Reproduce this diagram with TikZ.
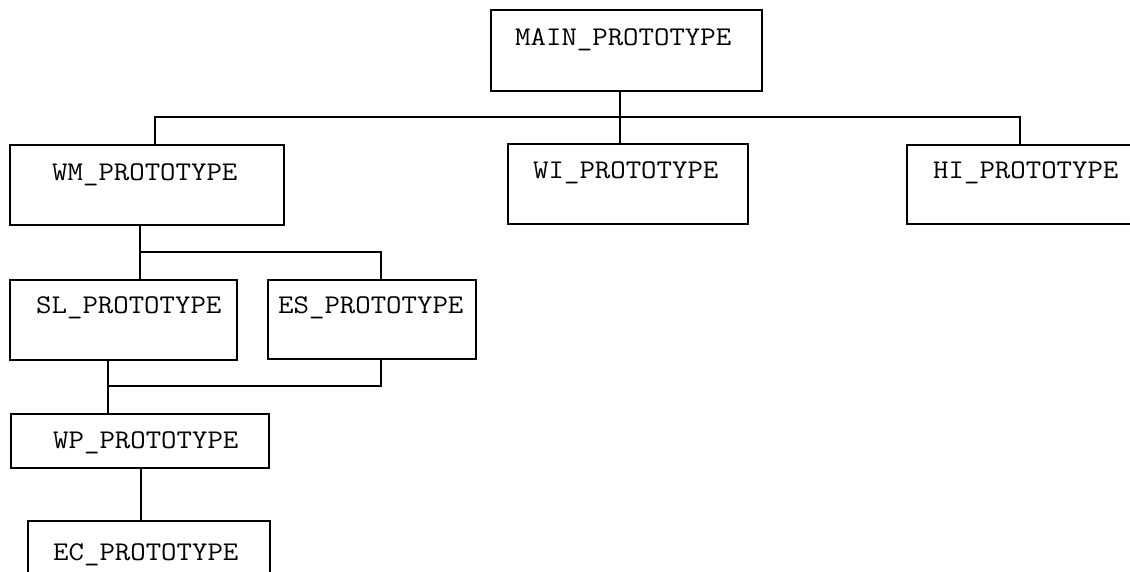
\documentclass[tikz,border=0pt]{standalone}
\usepackage{graphicx}
\newcommand\ptxt[1]{\scalebox{1.11}[1]{\ttfamily #1}}
\begin{document}
\begin{tikzpicture}[x=1pt,y=-1pt,
  box/.style={draw=black,line width=1.5pt,rectangle,inner sep=0pt,outer sep=0pt,anchor=north west},
  lbl/.style={font=\ttfamily\fontsize{27}{30}\selectfont,anchor=base west,inner sep=0pt,text=black},
  conn/.style={draw=black,line width=1.4pt}]
\useasboundingbox (0,0) rectangle (1130,571);
\clip (0,0) rectangle (1130,571);
% boxes
\node[box,minimum width=271pt,minimum height=81pt] (main) at (491,10) {};
\node[box,minimum width=274pt,minimum height=80pt] (wm) at (10,145) {};
\node[box,minimum width=240pt,minimum height=80pt] (wi) at (508,144) {};
\node[box,minimum width=240pt,minimum height=79pt] (hi) at (907,145) {};
\node[box,minimum width=227pt,minimum height=80pt] (sl) at (10,280) {};
\node[box,minimum width=208pt,minimum height=79pt] (es) at (268,280) {};
\node[box,minimum width=258pt,minimum height=54pt] (wp) at (11,414) {};
\node[box,minimum width=242pt,minimum height=80pt] (ec) at (28,521) {};
% labels
\node[lbl] (mainT) at (515,45) {\ptxt{MAIN\_PROTOTYPE}};
\node[lbl] (wmT) at (52,180) {\ptxt{WM\_PROTOTYPE}};
\node[lbl] (wiT) at (533,178) {\ptxt{WI\_PROTOTYPE}};
\node[lbl] (hiT) at (933,178) {\ptxt{HI\_PROTOTYPE}};
\node[lbl] (slT) at (36,313) {\ptxt{SL\_PROTOTYPE}};
\node[lbl] (esT) at (278,313) {\ptxt{ES\_PROTOTYPE}};
\node[lbl] (wpT) at (53,448) {\ptxt{WP\_PROTOTYPE}};
\node[lbl] (ecT) at (53,560) {\ptxt{EC\_PROTOTYPE}};
% junctions
\coordinate (j1) at (620,117);
\coordinate (j1l) at (155,117);
\coordinate (j1r) at (1020,117);
\coordinate (j2) at (140,252);
\coordinate (j2r) at (381,252);
\coordinate (j3) at (108,386);
\coordinate (j3r) at (381,386);
\coordinate (j4) at (141,490);
% connectors
\draw[conn] (main.south -| j1) -- (j1);
\draw[conn] (wm.north -| j1l) -- (j1l) -- (j1r) -- (hi.north -| j1r);
\draw[conn] (wi.north -| j1) -- (j1);
\draw[conn] (wm.south -| j2) -- (j2);
\draw[conn] (sl.north -| j2) -- (j2) -- (j2r) -- (es.north -| j2r);
\draw[conn] (sl.south -| j3) -- (j3) -- (wp.north -| j3);
\draw[conn] (j3) -- (j3r) -- (es.south -| j3r);
\draw[conn] (wp.south -| j4) -- (ec.north -| j4);
\end{tikzpicture}
\end{document}
